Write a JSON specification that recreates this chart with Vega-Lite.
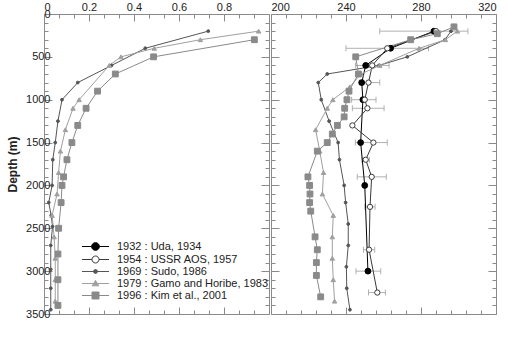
{
  "$schema": "https://vega.github.io/schema/vega-lite/v6.json",
  "padding": {"left": 6, "top": 0, "right": 5, "bottom": 5},
  "background": "white",
  "datasets": {
    "left": [
      {"s": "1969 : Sudo, 1986", "d": 200, "v": 0.73},
      {"s": "1969 : Sudo, 1986", "d": 400, "v": 0.45},
      {"s": "1969 : Sudo, 1986", "d": 600, "v": 0.30},
      {"s": "1969 : Sudo, 1986", "d": 800, "v": 0.15},
      {"s": "1969 : Sudo, 1986", "d": 1000, "v": 0.08},
      {"s": "1969 : Sudo, 1986", "d": 1250, "v": 0.062},
      {"s": "1969 : Sudo, 1986", "d": 1500, "v": 0.05},
      {"s": "1969 : Sudo, 1986", "d": 1700, "v": 0.039},
      {"s": "1969 : Sudo, 1986", "d": 2000, "v": 0.036},
      {"s": "1969 : Sudo, 1986", "d": 2200, "v": 0.021},
      {"s": "1969 : Sudo, 1986", "d": 2350, "v": 0.032},
      {"s": "1969 : Sudo, 1986", "d": 2480, "v": 0.038},
      {"s": "1969 : Sudo, 1986", "d": 2700, "v": 0.030},
      {"s": "1969 : Sudo, 1986", "d": 2980, "v": 0.030},
      {"s": "1969 : Sudo, 1986", "d": 3200, "v": 0.030},
      {"s": "1969 : Sudo, 1986", "d": 3450, "v": 0.030},
      {"s": "1979 : Gamo and Horibe, 1983", "d": 200, "v": 0.954},
      {"s": "1979 : Gamo and Horibe, 1983", "d": 300, "v": 0.695},
      {"s": "1979 : Gamo and Horibe, 1983", "d": 400, "v": 0.49},
      {"s": "1979 : Gamo and Horibe, 1983", "d": 500, "v": 0.342},
      {"s": "1979 : Gamo and Horibe, 1983", "d": 600, "v": 0.29},
      {"s": "1979 : Gamo and Horibe, 1983", "d": 1000, "v": 0.156},
      {"s": "1979 : Gamo and Horibe, 1983", "d": 1100, "v": 0.129},
      {"s": "1979 : Gamo and Horibe, 1983", "d": 1350, "v": 0.095},
      {"s": "1979 : Gamo and Horibe, 1983", "d": 1600, "v": 0.073},
      {"s": "1979 : Gamo and Horibe, 1983", "d": 1850, "v": 0.065},
      {"s": "1979 : Gamo and Horibe, 1983", "d": 2100, "v": 0.058},
      {"s": "1979 : Gamo and Horibe, 1983", "d": 2350, "v": 0.036},
      {"s": "1979 : Gamo and Horibe, 1983", "d": 2600, "v": 0.045},
      {"s": "1979 : Gamo and Horibe, 1983", "d": 2850, "v": 0.05},
      {"s": "1979 : Gamo and Horibe, 1983", "d": 3100, "v": 0.05},
      {"s": "1979 : Gamo and Horibe, 1983", "d": 3350, "v": 0.05},
      {"s": "1996 : Kim et al., 2001", "d": 300, "v": 0.935},
      {"s": "1996 : Kim et al., 2001", "d": 500, "v": 0.487},
      {"s": "1996 : Kim et al., 2001", "d": 700, "v": 0.317},
      {"s": "1996 : Kim et al., 2001", "d": 900, "v": 0.238},
      {"s": "1996 : Kim et al., 2001", "d": 1100, "v": 0.187},
      {"s": "1996 : Kim et al., 2001", "d": 1300, "v": 0.15},
      {"s": "1996 : Kim et al., 2001", "d": 1500, "v": 0.124},
      {"s": "1996 : Kim et al., 2001", "d": 1700, "v": 0.102},
      {"s": "1996 : Kim et al., 2001", "d": 1900, "v": 0.087},
      {"s": "1996 : Kim et al., 2001", "d": 2000, "v": 0.08},
      {"s": "1996 : Kim et al., 2001", "d": 2200, "v": 0.076},
      {"s": "1996 : Kim et al., 2001", "d": 2500, "v": 0.065},
      {"s": "1996 : Kim et al., 2001", "d": 2800, "v": 0.062},
      {"s": "1996 : Kim et al., 2001", "d": 3100, "v": 0.062},
      {"s": "1996 : Kim et al., 2001", "d": 3400, "v": 0.062}
    ],
    "right": [
      {"s": "1932 : Uda, 1934", "d": 200, "v": 286.9},
      {"s": "1932 : Uda, 1934", "d": 400, "v": 263.8},
      {"s": "1932 : Uda, 1934", "d": 600, "v": 250.5},
      {"s": "1932 : Uda, 1934", "d": 800, "v": 248.4},
      {"s": "1932 : Uda, 1934", "d": 1000, "v": 249},
      {"s": "1932 : Uda, 1934", "d": 1500, "v": 247.8},
      {"s": "1932 : Uda, 1934", "d": 2000, "v": 250},
      {"s": "1932 : Uda, 1934", "d": 3000, "v": 251.7, "lo": 245.3, "hi": 258.5},
      {"s": "1954 : USSR AOS, 1957", "d": 200, "v": 288, "lo": 258, "hi": 305},
      {"s": "1954 : USSR AOS, 1957", "d": 400, "v": 262, "lo": 240, "hi": 284},
      {"s": "1954 : USSR AOS, 1957", "d": 600, "v": 254, "lo": 245, "hi": 263},
      {"s": "1954 : USSR AOS, 1957", "d": 800, "v": 252, "lo": 247, "hi": 258},
      {"s": "1954 : USSR AOS, 1957", "d": 1000, "v": 250, "lo": 243, "hi": 256},
      {"s": "1954 : USSR AOS, 1957", "d": 1100, "v": 251.4, "lo": 243.4, "hi": 260.3},
      {"s": "1954 : USSR AOS, 1957", "d": 1300, "v": 243.4},
      {"s": "1954 : USSR AOS, 1957", "d": 1500, "v": 254.6, "lo": 245, "hi": 262},
      {"s": "1954 : USSR AOS, 1957", "d": 1700, "v": 250.5, "lo": 248.5, "hi": 252.5},
      {"s": "1954 : USSR AOS, 1957", "d": 1900, "v": 253.7, "lo": 246, "hi": 261.5},
      {"s": "1954 : USSR AOS, 1957", "d": 2250, "v": 252.8, "lo": 250, "hi": 255.5},
      {"s": "1954 : USSR AOS, 1957", "d": 2750, "v": 252.3, "lo": 249.3, "hi": 255.3},
      {"s": "1954 : USSR AOS, 1957", "d": 3250, "v": 256.7, "lo": 252, "hi": 261},
      {"s": "1969 : Sudo, 1986", "d": 200, "v": 296},
      {"s": "1969 : Sudo, 1986", "d": 300, "v": 292.8},
      {"s": "1969 : Sudo, 1986", "d": 500, "v": 272.7},
      {"s": "1969 : Sudo, 1986", "d": 600, "v": 257.6},
      {"s": "1969 : Sudo, 1986", "d": 700, "v": 230},
      {"s": "1969 : Sudo, 1986", "d": 800, "v": 225.2},
      {"s": "1969 : Sudo, 1986", "d": 1000, "v": 226.8},
      {"s": "1969 : Sudo, 1986", "d": 1250, "v": 231},
      {"s": "1969 : Sudo, 1986", "d": 1500, "v": 235.8},
      {"s": "1969 : Sudo, 1986", "d": 1700, "v": 236.5},
      {"s": "1969 : Sudo, 1986", "d": 2000, "v": 239},
      {"s": "1969 : Sudo, 1986", "d": 2200, "v": 239.8},
      {"s": "1969 : Sudo, 1986", "d": 2450, "v": 241.2},
      {"s": "1969 : Sudo, 1986", "d": 2700, "v": 241.2},
      {"s": "1969 : Sudo, 1986", "d": 2950, "v": 240.2},
      {"s": "1969 : Sudo, 1986", "d": 3200, "v": 240.4},
      {"s": "1969 : Sudo, 1986", "d": 3450, "v": 242.1},
      {"s": "1979 : Gamo and Horibe, 1983", "d": 200, "v": 299.4},
      {"s": "1979 : Gamo and Horibe, 1983", "d": 300, "v": 293},
      {"s": "1979 : Gamo and Horibe, 1983", "d": 400, "v": 279},
      {"s": "1979 : Gamo and Horibe, 1983", "d": 600, "v": 258},
      {"s": "1979 : Gamo and Horibe, 1983", "d": 700, "v": 248},
      {"s": "1979 : Gamo and Horibe, 1983", "d": 850, "v": 242},
      {"s": "1979 : Gamo and Horibe, 1983", "d": 1000, "v": 233},
      {"s": "1979 : Gamo and Horibe, 1983", "d": 1100, "v": 230},
      {"s": "1979 : Gamo and Horibe, 1983", "d": 1350, "v": 223.8},
      {"s": "1979 : Gamo and Horibe, 1983", "d": 1600, "v": 226},
      {"s": "1979 : Gamo and Horibe, 1983", "d": 1850, "v": 228},
      {"s": "1979 : Gamo and Horibe, 1983", "d": 2100, "v": 227.4},
      {"s": "1979 : Gamo and Horibe, 1983", "d": 2350, "v": 233.2},
      {"s": "1979 : Gamo and Horibe, 1983", "d": 2600, "v": 232.7},
      {"s": "1979 : Gamo and Horibe, 1983", "d": 2850, "v": 232.7},
      {"s": "1979 : Gamo and Horibe, 1983", "d": 3100, "v": 233.2},
      {"s": "1979 : Gamo and Horibe, 1983", "d": 3350, "v": 233.9},
      {"s": "1996 : Kim et al., 2001", "d": 150, "v": 297.6},
      {"s": "1996 : Kim et al., 2001", "d": 230, "v": 288.7},
      {"s": "1996 : Kim et al., 2001", "d": 300, "v": 274.5},
      {"s": "1996 : Kim et al., 2001", "d": 500, "v": 245.2},
      {"s": "1996 : Kim et al., 2001", "d": 700, "v": 246.6},
      {"s": "1996 : Kim et al., 2001", "d": 900, "v": 241.6},
      {"s": "1996 : Kim et al., 2001", "d": 1000, "v": 240.5},
      {"s": "1996 : Kim et al., 2001", "d": 1100, "v": 239.3},
      {"s": "1996 : Kim et al., 2001", "d": 1200, "v": 239},
      {"s": "1996 : Kim et al., 2001", "d": 1300, "v": 235.4},
      {"s": "1996 : Kim et al., 2001", "d": 1400, "v": 232.7},
      {"s": "1996 : Kim et al., 2001", "d": 1500, "v": 230},
      {"s": "1996 : Kim et al., 2001", "d": 1600, "v": 224.7},
      {"s": "1996 : Kim et al., 2001", "d": 1900, "v": 219.7},
      {"s": "1996 : Kim et al., 2001", "d": 2000, "v": 220.6},
      {"s": "1996 : Kim et al., 2001", "d": 2100, "v": 220.8},
      {"s": "1996 : Kim et al., 2001", "d": 2200, "v": 220.6},
      {"s": "1996 : Kim et al., 2001", "d": 2300, "v": 221.2},
      {"s": "1996 : Kim et al., 2001", "d": 2600, "v": 223.5},
      {"s": "1996 : Kim et al., 2001", "d": 2750, "v": 224.7},
      {"s": "1996 : Kim et al., 2001", "d": 2900, "v": 224.2},
      {"s": "1996 : Kim et al., 2001", "d": 3050, "v": 224.2},
      {"s": "1996 : Kim et al., 2001", "d": 3300, "v": 226.5}
    ]
  },
  "spacing": 0,
  "hconcat": [
    {
      "width": 225,
      "height": 300,
      "data": {"name": "left"},
      "layer": [
        {
          "mark": {"type": "line", "strokeWidth": 1},
          "encoding": {
            "x": {"field": "v", "type": "quantitative", "scale": {"domain": [0, 1], "nice": false, "zero": false},
              "axis": {"orient": "top", "title": null, "domain": false,
                "values": [0, 0.0667, 0.1333, 0.2, 0.2667, 0.3333, 0.4, 0.4667, 0.5333, 0.6, 0.6667, 0.7333, 0.8, 0.8667, 0.9333],
                "labelExpr": "indexof([0,0.2,0.4,0.6,0.8], datum.value) >= 0 ? format(datum.value, '~g') : ''",
                "tickSize": {"condition": {"test": "indexof([0,0.2,0.4,0.6,0.8], datum.value) >= 0", "value": -7}, "value": -4},
                "labelPadding": 9}},
            "y": {"field": "d", "type": "quantitative", "scale": {"domain": [0, 3500], "reverse": true, "nice": false, "zero": false},
              "axis": {"orient": "left", "title": "Depth (m)", "format": "d", "domain": false,
                "values": [0,100,200,300,400,500,600,700,800,900,1000,1100,1200,1300,1400,1500,1600,1700,1800,1900,2000,2100,2200,2300,2400,2500,2600,2700,2800,2900,3000,3100,3200,3300,3400,3500],
                "labelExpr": "datum.value % 500 == 0 ? datum.label : ''",
                "tickSize": {"condition": {"test": "datum.value % 500 == 0", "value": -8}, "value": -4},
                "labelPadding": 2, "titlePadding": 6}},
            "stroke": {"field": "s", "type": "nominal",
              "scale": {"domain": ["1932 : Uda, 1934", "1954 : USSR AOS, 1957", "1969 : Sudo, 1986", "1979 : Gamo and Horibe, 1983", "1996 : Kim et al., 2001"],
                "range": ["#000000", "#3a3a3a", "#555555", "#a0a0a0", "#8a8a8a"]}},
            "order": {"field": "d", "type": "quantitative"}
          }
        },
        {
          "transform": [{"filter": "datum.s == '1969 : Sudo, 1986'"}],
          "mark": {"type": "point", "shape": "circle", "opacity": 1, "strokeWidth": 1},
          "encoding": {
            "x": {"field": "v", "type": "quantitative", "axis": null},
            "y": {"field": "d", "type": "quantitative", "axis": null},
            "fill": {"field": "s", "type": "nominal",
              "scale": {"domain": ["1932 : Uda, 1934", "1954 : USSR AOS, 1957", "1969 : Sudo, 1986", "1979 : Gamo and Horibe, 1983", "1996 : Kim et al., 2001"],
                "range": ["#000000", "#ffffff", "#555555", "#a0a0a0", "#8a8a8a"]}},
            "stroke": {"field": "s", "type": "nominal"},
            "size": {"field": "s", "type": "nominal", "legend": null,
              "scale": {"type": "ordinal", "domain": ["1996 : Kim et al., 2001", "1979 : Gamo and Horibe, 1983", "1969 : Sudo, 1986", "1954 : USSR AOS, 1957", "1932 : Uda, 1934"],
                "range": [34, 20, 8, 28, 34]}}
          }
        },
        {
          "transform": [{"filter": "datum.s == '1979 : Gamo and Horibe, 1983'"}],
          "mark": {"type": "point", "shape": "triangle-up", "opacity": 1, "strokeWidth": 1},
          "encoding": {
            "x": {"field": "v", "type": "quantitative", "axis": null},
            "y": {"field": "d", "type": "quantitative", "axis": null},
            "fill": {"field": "s", "type": "nominal"},
            "stroke": {"field": "s", "type": "nominal"},
            "size": {"field": "s", "type": "nominal", "legend": null,
              "scale": {"type": "ordinal", "domain": ["1996 : Kim et al., 2001", "1979 : Gamo and Horibe, 1983", "1969 : Sudo, 1986", "1954 : USSR AOS, 1957", "1932 : Uda, 1934"],
                "range": [34, 20, 8, 28, 34]}}
          }
        },
        {
          "transform": [{"filter": "datum.s == '1996 : Kim et al., 2001'"}],
          "mark": {"type": "point", "shape": "square", "opacity": 1, "strokeWidth": 1},
          "encoding": {
            "x": {"field": "v", "type": "quantitative", "axis": null},
            "y": {"field": "d", "type": "quantitative", "axis": null},
            "fill": {"field": "s", "type": "nominal"},
            "stroke": {"field": "s", "type": "nominal"},
            "size": {"field": "s", "type": "nominal", "legend": null,
              "scale": {"type": "ordinal", "domain": ["1996 : Kim et al., 2001", "1979 : Gamo and Horibe, 1983", "1969 : Sudo, 1986", "1954 : USSR AOS, 1957", "1932 : Uda, 1934"],
                "range": [34, 20, 8, 28, 34]}}
          }
        },
        {
          "mark": {"type": "point", "opacity": 0},
          "encoding": {
            "x": {"field": "v", "type": "quantitative",
              "axis": {"orient": "bottom", "title": null, "labels": false, "domain": false,
                "values": [0, 0.0667, 0.1333, 0.2, 0.2667, 0.3333, 0.4, 0.4667, 0.5333, 0.6, 0.6667, 0.7333, 0.8, 0.8667, 0.9333],
                "tickSize": {"condition": {"test": "indexof([0,0.2,0.4,0.6,0.8], datum.value) >= 0", "value": -7}, "value": -4}}},
            "y": {"field": "d", "type": "quantitative",
              "axis": {"orient": "right", "title": null, "labels": false, "domain": false,
                "values": [0,100,200,300,400,500,600,700,800,900,1000,1100,1200,1300,1400,1500,1600,1700,1800,1900,2000,2100,2200,2300,2400,2500,2600,2700,2800,2900,3000,3100,3200,3300,3400,3500],
                "tickSize": {"condition": {"test": "datum.value % 500 == 0", "value": -8}, "value": -4}}}
          }
        }
      ],
      "resolve": {"axis": {"x": "independent", "y": "independent"}}
    },
    {
      "width": 225,
      "height": 300,
      "data": {"name": "right"},
      "layer": [
        {
          "transform": [{"filter": "isValid(datum.lo)"}],
          "mark": {"type": "rule", "color": "#b0b0b0", "strokeWidth": 1},
          "encoding": {
            "x": {"field": "lo", "type": "quantitative", "scale": {"domain": [200, 320], "nice": false, "zero": false},
              "axis": {"orient": "top", "title": null, "domain": false,
                "values": [200,208,216,224,232,240,248,256,264,272,280,288,296,304,312,320],
                "labelExpr": "datum.value % 40 == 0 ? datum.label : ''",
                "tickSize": {"condition": {"test": "datum.value % 40 == 0", "value": -7}, "value": -4},
                "labelPadding": 9}},
            "x2": {"field": "hi"},
            "y": {"field": "d", "type": "quantitative", "scale": {"domain": [0, 3500], "reverse": true, "nice": false, "zero": false},
              "axis": {"orient": "left", "title": null, "labels": false, "domain": false,
                "values": [0,100,200,300,400,500,600,700,800,900,1000,1100,1200,1300,1400,1500,1600,1700,1800,1900,2000,2100,2200,2300,2400,2500,2600,2700,2800,2900,3000,3100,3200,3300,3400,3500],
                "tickSize": {"condition": {"test": "datum.value % 500 == 0", "value": -8}, "value": -4}}}
          }
        },
        {
          "transform": [{"filter": "isValid(datum.lo)"}],
          "mark": {"type": "tick", "orient": "vertical", "color": "#b0b0b0", "size": 6, "thickness": 1, "opacity": 1},
          "encoding": {
            "x": {"field": "lo", "type": "quantitative", "axis": null},
            "y": {"field": "d", "type": "quantitative", "axis": null}
          }
        },
        {
          "transform": [{"filter": "isValid(datum.hi)"}],
          "mark": {"type": "tick", "orient": "vertical", "color": "#b0b0b0", "size": 6, "thickness": 1, "opacity": 1},
          "encoding": {
            "x": {"field": "hi", "type": "quantitative", "axis": null},
            "y": {"field": "d", "type": "quantitative", "axis": null}
          }
        },
        {
          "mark": {"type": "line", "strokeWidth": 1},
          "encoding": {
            "x": {"field": "v", "type": "quantitative", "axis": null},
            "y": {"field": "d", "type": "quantitative", "axis": null},
            "stroke": {"field": "s", "type": "nominal"},
            "order": {"field": "d", "type": "quantitative"}
          }
        },
        {
          "transform": [{"filter": "datum.s == '1932 : Uda, 1934' || datum.s == '1954 : USSR AOS, 1957' || datum.s == '1969 : Sudo, 1986'"}],
          "mark": {"type": "point", "shape": "circle", "opacity": 1, "strokeWidth": 1},
          "encoding": {
            "x": {"field": "v", "type": "quantitative", "axis": null},
            "y": {"field": "d", "type": "quantitative", "axis": null},
            "fill": {"field": "s", "type": "nominal"},
            "stroke": {"field": "s", "type": "nominal"},
            "size": {"field": "s", "type": "nominal", "legend": null,
              "scale": {"type": "ordinal", "domain": ["1996 : Kim et al., 2001", "1979 : Gamo and Horibe, 1983", "1969 : Sudo, 1986", "1954 : USSR AOS, 1957", "1932 : Uda, 1934"],
                "range": [34, 20, 8, 28, 34]}}
          }
        },
        {
          "transform": [{"filter": "datum.s == '1979 : Gamo and Horibe, 1983'"}],
          "mark": {"type": "point", "shape": "triangle-up", "opacity": 1, "strokeWidth": 1},
          "encoding": {
            "x": {"field": "v", "type": "quantitative", "axis": null},
            "y": {"field": "d", "type": "quantitative", "axis": null},
            "fill": {"field": "s", "type": "nominal"},
            "stroke": {"field": "s", "type": "nominal"},
            "size": {"field": "s", "type": "nominal", "legend": null,
              "scale": {"type": "ordinal", "domain": ["1996 : Kim et al., 2001", "1979 : Gamo and Horibe, 1983", "1969 : Sudo, 1986", "1954 : USSR AOS, 1957", "1932 : Uda, 1934"],
                "range": [34, 20, 8, 28, 34]}}
          }
        },
        {
          "transform": [{"filter": "datum.s == '1996 : Kim et al., 2001'"}],
          "mark": {"type": "point", "shape": "square", "opacity": 1, "strokeWidth": 1},
          "encoding": {
            "x": {"field": "v", "type": "quantitative", "axis": null},
            "y": {"field": "d", "type": "quantitative", "axis": null},
            "fill": {"field": "s", "type": "nominal"},
            "stroke": {"field": "s", "type": "nominal"},
            "size": {"field": "s", "type": "nominal", "legend": null,
              "scale": {"type": "ordinal", "domain": ["1996 : Kim et al., 2001", "1979 : Gamo and Horibe, 1983", "1969 : Sudo, 1986", "1954 : USSR AOS, 1957", "1932 : Uda, 1934"],
                "range": [34, 20, 8, 28, 34]}}
          }
        },
        {
          "transform": [{"filter": "datum.d < 0"}],
          "mark": {"type": "point", "strokeWidth": 1},
          "encoding": {
            "x": {"field": "v", "type": "quantitative",
              "axis": {"orient": "bottom", "title": null, "labels": false, "domain": false,
                "values": [200,208,216,224,232,240,248,256,264,272,280,288,296,304,312,320],
                "tickSize": {"condition": {"test": "datum.value % 40 == 0", "value": -7}, "value": -4}}},
            "y": {"field": "d", "type": "quantitative",
              "axis": {"orient": "right", "title": null, "labels": false, "domain": false,
                "values": [0,100,200,300,400,500,600,700,800,900,1000,1100,1200,1300,1400,1500,1600,1700,1800,1900,2000,2100,2200,2300,2400,2500,2600,2700,2800,2900,3000,3100,3200,3300,3400,3500],
                "tickSize": {"condition": {"test": "datum.value % 500 == 0", "value": -8}, "value": -4}}},
            "shape": {"field": "s", "type": "nominal",
              "scale": {"domain": ["1932 : Uda, 1934", "1954 : USSR AOS, 1957", "1969 : Sudo, 1986", "1979 : Gamo and Horibe, 1983", "1996 : Kim et al., 2001"],
                "range": [
                  "M-3.5,0H-1M1,0H3.5M-1,0A1,1 0 1 0 1,0A1,1 0 1 0 -1,0Z",
                  "M-3.5,0H-0.9M0.9,0H3.5M-0.9,0A0.9,0.9 0 1 0 0.9,0A0.9,0.9 0 1 0 -0.9,0Z",
                  "M-3.5,0H3.5M-0.5,0A0.5,0.5 0 1 0 0.5,0A0.5,0.5 0 1 0 -0.5,0Z",
                  "M-3.5,0H3.5M0,-0.8L0.85,0.6H-0.85Z",
                  "M-3.5,0H3.5M-0.9,-0.9H0.9V0.9H-0.9Z"
                ]}},
            "fill": {"field": "s", "type": "nominal"},
            "stroke": {"field": "s", "type": "nominal"}
          }
        }
      ],
      "resolve": {"axis": {"x": "independent", "y": "independent"}}
    }
  ],
  "resolve": {"scale": {"x": "independent", "y": "independent"}},
  "config": {
    "view": {"stroke": "#8a8a8a", "strokeWidth": 1},
    "axis": {"labelFont": "Liberation Sans", "labelFontSize": 11, "labelColor": "#222222",
      "tickColor": "#8a8a8a", "tickWidth": 1, "grid": false,
      "titleFont": "Liberation Sans", "titleFontSize": 12, "titleFontWeight": "bold", "titleColor": "#222222"},
    "legend": {"orient": "none", "legendX": 46, "legendY": 227, "title": null,
      "labelFont": "Liberation Sans", "labelFontSize": 11, "labelColor": "#222222",
      "symbolSize": 60, "symbolStrokeWidth": 1, "symbolOpacity": 1,
      "labelOffset": 16, "rowPadding": 0, "padding": 0}
  },
  "encoding": {}
}
